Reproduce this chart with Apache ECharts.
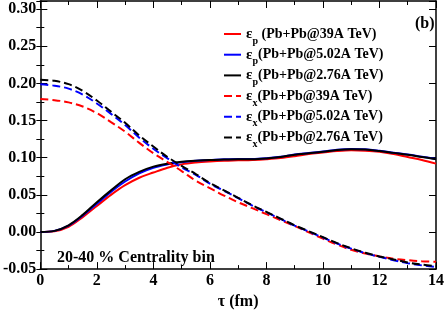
<!DOCTYPE html>
<html>
<head>
<meta charset="utf-8">
<script src="https://cdn.jsdelivr.net/npm/echarts@6/dist/echarts.min.js"></script>
<style>html,body{margin:0;padding:0;background:#fff}#c{width:447px;height:315px}</style>
</head>
<body>
<div id="c"></div>
<script>
var tau = [0,0.5,1,1.5,2,2.5,3,3.5,4,4.5,5,5.5,6,6.5,7,7.5,8,8.5,9,9.5,10,10.5,11,11.5,12,12.5,13,13.5,14];
var xTicks = [0,2,4,6,8,10,12,14];
var yTicks = [-0.05,0.00,0.05,0.10,0.15,0.20,0.25,0.30];

var epPb39  = [0,0.001,0.007,0.020,0.035,0.050,0.063,0.073,0.080,0.0865,0.091,0.0935,0.095,0.096,0.0965,0.097,0.098,0.0995,0.102,0.105,0.107,0.109,0.110,0.1095,0.108,0.105,0.101,0.097,0.092];
var epPb502 = [0,0.0015,0.0085,0.022,0.038,0.054,0.068,0.079,0.0865,0.091,0.094,0.0958,0.0968,0.0978,0.0983,0.0983,0.0993,0.1013,0.1043,0.1063,0.1083,0.1108,0.1118,0.1113,0.1093,0.1068,0.1043,0.1013,0.0983];
var epPb276 = [0,0.0015,0.009,0.023,0.040,0.056,0.071,0.081,0.088,0.092,0.0945,0.096,0.097,0.0975,0.098,0.098,0.099,0.101,0.104,0.106,0.108,0.1105,0.1115,0.111,0.109,0.1065,0.104,0.101,0.098];
var exPb39  = [0.179,0.1775,0.1745,0.169,0.160,0.148,0.135,0.120,0.106,0.094,0.082,0.069,0.059,0.049,0.040,0.032,0.024,0.016,0.008,-0.0005,-0.009,-0.017,-0.024,-0.029,-0.033,-0.036,-0.038,-0.0395,-0.040];
var exPb502 = [0.199,0.197,0.193,0.185,0.173,0.159,0.144,0.127,0.112,0.099,0.087,0.077,0.065,0.0555,0.0455,0.0355,0.0265,0.0175,0.0085,0.0005,-0.0075,-0.0155,-0.0225,-0.0285,-0.0335,-0.038,-0.042,-0.045,-0.047];
var exPb276 = [0.205,0.2035,0.199,0.190,0.177,0.162,0.147,0.130,0.115,0.101,0.089,0.078,0.066,0.056,0.046,0.036,0.027,0.018,0.009,0.001,-0.007,-0.015,-0.022,-0.028,-0.033,-0.037,-0.041,-0.044,-0.046];

var legendLabels = {
  ep39:  '{e|ε}{s|p}{t| (Pb+Pb@39A TeV)}',
  ep502: '{e|ε}{s|p}{t|(Pb+Pb@5.02A TeV)}',
  ep276: '{e|ε}{s|p}{t|(Pb+Pb@2.76A TeV)}',
  ex39:  '{e|ε}{s|x}{t|(Pb+Pb@39A TeV)}',
  ex502: '{e|ε}{s|x}{t|(Pb+Pb@5.02A TeV)}',
  ex276: '{e|ε}{s|x}{t|(Pb+Pb@2.76A TeV)}'
};

function pairs(v){ return tau.map(function(t,i){ return [t, v[i]]; }); }

var FONT = '"Liberation Serif","Times New Roman",serif';
var dash = [8,4];

function ser(name, data, color, dashed){
  return {
    name: name, type: 'line', data: pairs(data), smooth: 0.35,
    symbol: 'none', xAxisIndex: 0, yAxisIndex: 0,
    lineStyle: {color: color, width: 2, type: dashed ? dash : 'solid'},
    itemStyle: {color: color}, z: dashed ? 3 : 2
  };
}

function isTick(v, arr){ return arr.some(function(a){ return Math.abs(a - v) < 1e-6; }); }

var axisLineStyle = {color: '#000', width: 1.5};
var chart = echarts.init(document.getElementById('c'), null, {renderer: 'canvas'});
chart.setOption({
  animation: false,
  backgroundColor: '#fff',
  grid: {left: 40, right: 10, top: 1, bottom: 36},
  title: [
    {text: '(b)', left: 410, top: 11, textStyle: {fontFamily: FONT, fontWeight: 'bold', fontSize: 16, color: '#000'}},
    {text: '20-40 % Centrality bin', left: 52, top: 245, textStyle: {fontFamily: FONT, fontWeight: 'bold', fontSize: 16, color: '#000'}}
  ],
  legend: {
    orient: 'vertical', left: 223, top: 22, padding: 0, itemWidth: 17, itemHeight: 14, itemGap: -3.3,
    data: ['ep39','ep502','ep276','ex39','ex502','ex276'],
    itemStyle: {color: 'rgba(0,0,0,0)', borderColor: 'rgba(0,0,0,0)', borderWidth: 0},
    formatter: function(n){ return legendLabels[n]; },
    textStyle: {
      fontFamily: FONT, fontWeight: 'bold', fontSize: 14, color: '#000', lineHeight: 20,
      rich: {
        e: {fontFamily: FONT, fontSize: 15, color: '#000', lineHeight: 20},
        s: {fontFamily: FONT, fontWeight: 'bold', fontSize: 10, color: '#000', lineHeight: 20, padding: [14,0,0,0]},
        t: {fontFamily: FONT, fontWeight: 'bold', fontSize: 14, color: '#000', lineHeight: 20}
      }
    }
  },
  xAxis: [
    {type: 'value', min: 0, max: 14, interval: 2, position: 'bottom',
     axisLine: {show: true, onZero: false, lineStyle: axisLineStyle},
     axisTick: {show: true, inside: true, length: 7, lineStyle: {color: '#000', width: 1}},
     minorTick: {show: true, splitNumber: 2, length: 4, lineStyle: {color: '#000', width: 1}},
     splitLine: {show: false},
     axisLabel: {margin: 4, fontFamily: FONT, fontWeight: 'bold', fontSize: 16, color: '#000',
       formatter: function(v){ return isTick(v, xTicks) ? String(v) : ''; }},
     name: 'τ (fm)', nameLocation: 'middle', nameGap: 22,
     nameTextStyle: {fontFamily: FONT, fontWeight: 'bold', fontSize: 16, color: '#000'}},
    {type: 'value', min: 0, max: 14, interval: 2, position: 'top',
     axisLine: {show: true, onZero: false, lineStyle: axisLineStyle},
     axisTick: {show: true, inside: true, length: 7, lineStyle: {color: '#000', width: 1}},
     minorTick: {show: true, splitNumber: 2, length: 4, lineStyle: {color: '#000', width: 1}},
     splitLine: {show: false}, axisLabel: {show: false}}
  ],
  yAxis: [
    {type: 'value', min: -0.05, max: 0.311, interval: 0.05, position: 'left',
     axisLine: {show: true, onZero: false, lineStyle: axisLineStyle},
     axisTick: {show: true, inside: true, length: 7, lineStyle: {color: '#000', width: 1}},
     splitLine: {show: false},
     axisLabel: {margin: 4, fontFamily: FONT, fontWeight: 'bold', fontSize: 16, color: '#000',
       formatter: function(v){ return isTick(v, yTicks) ? v.toFixed(2) : ''; }}},
    {type: 'value', min: -0.05, max: 0.311, interval: 0.025, position: 'left',
     axisLine: {show: false}, axisTick: {show: true, inside: true, length: 4, lineStyle: {color: '#000', width: 1}},
     splitLine: {show: false}, axisLabel: {show: false}},
    {type: 'value', min: -0.05, max: 0.311, interval: 0.05, position: 'right',
     axisLine: {show: true, onZero: false, lineStyle: axisLineStyle},
     axisTick: {show: true, inside: true, length: 7, lineStyle: {color: '#000', width: 1}},
     splitLine: {show: false}, axisLabel: {show: false}},
    {type: 'value', min: -0.05, max: 0.311, interval: 0.025, position: 'right',
     axisLine: {show: false}, axisTick: {show: true, inside: true, length: 4, lineStyle: {color: '#000', width: 1}},
     splitLine: {show: false}, axisLabel: {show: false}}
  ],
  series: [
    ser('ep39', epPb39, '#ff0000', false),
    ser('ep502', epPb502, '#0000ff', false),
    ser('ep276', epPb276, '#000000', false),
    ser('ex39', exPb39, '#ff0000', true),
    ser('ex502', exPb502, '#0000ff', true),
    ser('ex276', exPb276, '#000000', true)
  ]
});
</script>
</body>
</html>
